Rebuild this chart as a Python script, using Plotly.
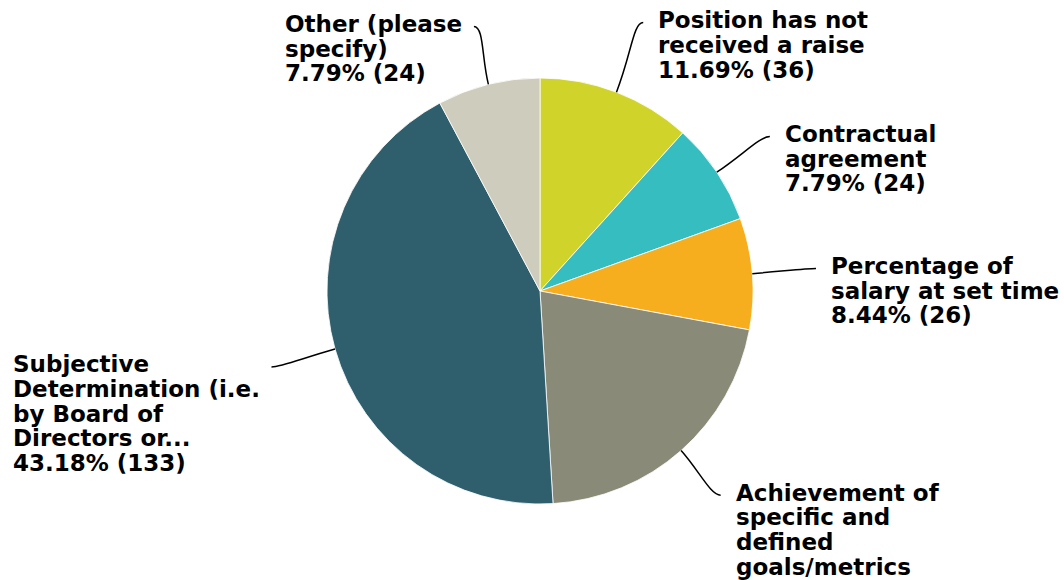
import math
import textwrap
import plotly.graph_objects as go

labels = ["Position has not received a raise", "Contractual agreement",
          "Percentage of salary at set time",
          "Achievement of specific and defined goals/metrics",
          "Subjective Determination (i.e. by Board of Directors or...",
          "Other (please specify)"]
counts = [36, 24, 26, 65, 133, 24]
colors = ["#D0D42A", "#35BDC0", "#F6AE1F", "#8A8A78", "#2F5F6D", "#CECCBD"]

W, H = 1064, 580
CX, CY, R = 540, 291, 213
FS = 23
PITCH = 24.7
# leader line length, as a multiple of the pie radius
LEADER = [1.35, 1.3, 1.3, 1.28, 1.31, 1.28]

# approximate DejaVu Sans Bold advance widths (em)
CW = {' ': .348, '(': .456, ')': .456, '.': .380, '%': 1.002, '/': .365,
      'a': .675, 'b': .716, 'c': .593, 'd': .716, 'e': .678, 'f': .435, 'g': .716,
      'h': .712, 'i': .343, 'j': .343, 'k': .665, 'l': .343, 'm': 1.042, 'n': .712,
      'o': .687, 'p': .716, 'r': .493, 's': .595, 't': .478, 'u': .712, 'v': .652,
      'w': .924, 'y': .652, 'B': .762, 'D': .830, 'O': .850, 'S': .720}


def text_w(s):
    return sum(CW.get(ch, .696 if ch.isdigit() else .70) for ch in s) * FS


def px(x):
    return x / W


def py(y):
    return 1 - y / H


fig = go.Figure()
fig.add_trace(go.Pie(
    labels=labels, values=counts, sort=False, direction="clockwise", rotation=0,
    marker=dict(colors=colors, line=dict(color="white", width=0.8)),
    textinfo="none", hoverinfo="skip", showlegend=False,
    domain=dict(x=[px(CX - R), px(CX + R)], y=[py(CY + R), py(CY - R)]),
))

total = sum(counts)
cum = 0
annotations = []
shapes = []
for k, (lab, c) in enumerate(zip(labels, counts)):
    pct = c / total * 100
    mid = (cum + c / 2) / total * 2 * math.pi
    cum += c
    dx, dy = math.sin(mid), -math.cos(mid)
    f = LEADER[k]
    sx, sy = CX + R * dx, CY + R * dy
    ex, ey = CX + f * R * dx, CY + f * R * dy
    side = 1 if dx >= 0 else -1
    c1x, c1y = CX + (f - 0.15) * R * dx, CY + (f - 0.15) * R * dy
    c2x, c2y = ex - side * 10, ey
    path = "M {} {} C {} {}, {} {}, {} {}".format(
        px(sx), py(sy), px(c1x), py(c1y), px(c2x), py(c2y), px(ex), py(ey))
    shapes.append(dict(type="path", path=path, xref="paper", yref="paper",
                       line=dict(color="black", width=1.5)))
    lines = textwrap.wrap(lab, 19) + ["{:.2f}% ({})".format(pct, c)]
    if side > 0:
        left = ex + 13
    else:
        left = ex - 14 - max(text_w(l) for l in lines)
    for i, l in enumerate(lines):
        annotations.append(dict(
            text="<b>" + l + "</b>", x=px(left), y=py(ey - 2.5 + i * PITCH),
            xref="paper", yref="paper", xanchor="left", yanchor="middle",
            showarrow=False, font=dict(family="DejaVu Sans", size=FS, color="black")))

fig.update_layout(
    width=W, height=H, margin=dict(l=0, r=0, t=0, b=0),
    paper_bgcolor="white", plot_bgcolor="white",
    annotations=annotations, shapes=shapes,
)

fig.write_html("out.html", config={"displayModeBar": False},
               post_script="document.body.style.margin='0';")
